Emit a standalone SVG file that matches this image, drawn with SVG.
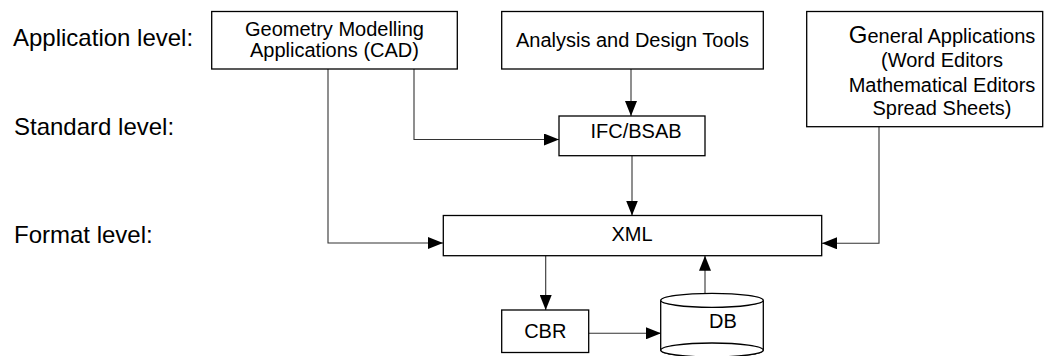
<svg xmlns="http://www.w3.org/2000/svg" width="1044" height="356" viewBox="0 0 1044 356">
<defs>
<style>
.box{fill:#fff;stroke:#000;stroke-width:1.3}
.t{font-family:"Liberation Sans",Arial,sans-serif;font-size:20px;fill:#000;text-anchor:middle}
.lbl{font-family:"Liberation Sans",Arial,sans-serif;font-size:24px;fill:#000}
.c{fill:none;stroke:#333;stroke-width:1.1}
</style>
<marker id="ah" markerUnits="userSpaceOnUse" markerWidth="15" markerHeight="12" refX="15" refY="6" orient="auto">
<path d="M0,0 L15,6 L0,12 z" fill="#000"/>
</marker>
</defs>
<rect width="1044" height="356" fill="#fff"/>
<g id="labels">
<text class="lbl" x="13" y="46">Application level:</text>
<text class="lbl" x="14" y="135">Standard level:</text>
<text class="lbl" x="14" y="243">Format level:</text>
</g>
<g id="connectors">
<path class="c" d="M328,69 V243 H443" marker-end="url(#ah)"/>
<path class="c" d="M414,69 V139.5 H559" marker-end="url(#ah)"/>
<path class="c" d="M631,69 V116" marker-end="url(#ah)"/>
<path class="c" d="M632,156 V215.5" marker-end="url(#ah)"/>
<path class="c" d="M879,127 V243.3 H822" marker-end="url(#ah)"/>
<path class="c" d="M545.7,255.7 V310" marker-end="url(#ah)"/>
<path class="c" d="M589,333.3 H661" marker-end="url(#ah)"/>
<path class="c" d="M705,293 V255.7" marker-end="url(#ah)"/>
</g>
<g id="geometry">
<rect class="box" x="211.7" y="11.5" width="245.6" height="57.5"/>
<text class="t" x="334.5" y="35.5">Geometry Modelling</text>
<text class="t" x="334.5" y="56.5">Applications (CAD)</text>
</g>
<g id="analysis">
<rect class="box" x="501.7" y="11.5" width="261.6" height="57.5"/>
<text class="t" x="632.5" y="46.5">Analysis and Design Tools</text>
</g>
<g id="general">
<rect class="box" x="806.7" y="11.5" width="236" height="115.2"/>
<text class="t" x="942" y="43.3"><tspan font-size="24">G</tspan>eneral Applications</text>
<text class="t" x="942" y="66.7">(Word Editors</text>
<text class="t" x="942" y="91.5">Mathematical Editors</text>
<text class="t" x="942" y="115">Spread Sheets)</text>
</g>
<g id="ifc">
<rect class="box" x="559" y="116" width="146" height="39.7"/>
<text class="t" x="636" y="137.5" font-size="18">IFC/BSAB</text>
</g>
<g id="xml">
<rect class="box" x="443.3" y="215.5" width="378.4" height="40.2"/>
<text class="t" x="632" y="240.7">XML</text>
</g>
<g id="cbr">
<rect class="box" x="501.7" y="310" width="87" height="42.5"/>
<text class="t" x="545.3" y="337.7">CBR</text>
</g>
<g id="db">
<path class="box" d="M660.7,300.3 V350 A51.3,7 0 0 0 763.3,350 V300.3"/>
<ellipse class="box" cx="712" cy="350" rx="51.3" ry="7"/>
<ellipse class="box" cx="712" cy="300.3" rx="51.3" ry="7"/>
<text class="t" x="723" y="328.3">DB</text>
</g>
</svg>
